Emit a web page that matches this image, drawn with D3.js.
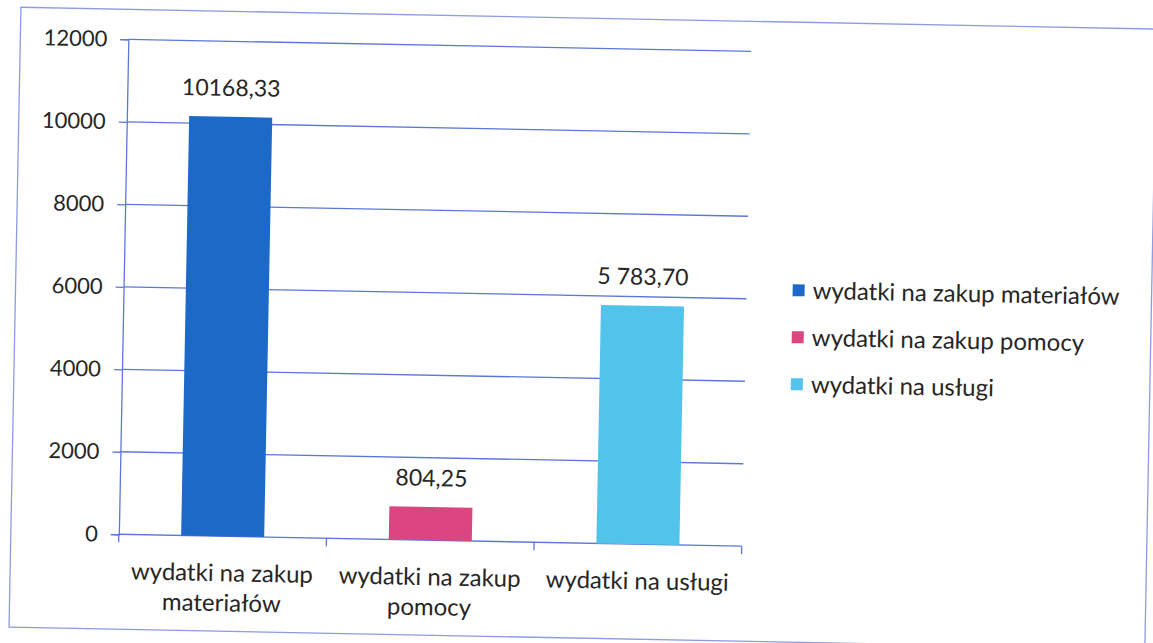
<!DOCTYPE html>
<html>
<head>
<meta charset="utf-8">
<script src="https://cdn.jsdelivr.net/npm/d3@7"></script>
<style>
  body { margin: 0; background: #fff; }
  svg text { font-family: Lato, "Open Sans", sans-serif; fill: #262626; }
</style>
</head>
<body>
<svg id="chart" width="1153" height="643"></svg>
<script>
// data
var categories = [
  ["wydatki na zakup", "materiałów"],
  ["wydatki na zakup", "pomocy"],
  ["wydatki na usługi"]
];
var seriesNames = ["wydatki na zakup materiałów", "wydatki na zakup pomocy", "wydatki na usługi"];
var values = [10168.33, 804.25, 5783.70];
var valueLabels = ["10168,33", "804,25", "5 783,70"];
var yTicks = [0, 2000, 4000, 6000, 8000, 10000, 12000];
var colors = ["#1c69c8", "#dc4680", "#52c4ec"];

var W = 1153, H = 643;
var margin = {top: 48, right: 407, bottom: 100, left: 123};
var width = W - margin.left - margin.right,
    height = H - margin.top - margin.bottom;
var lineColor = "#5d77d8";

var svg = d3.select("#chart");
// the scan sits about one degree off level
var root = svg.append("g").attr("transform", "rotate(1.1," + W / 2 + "," + H / 2 + ")");

root.append("rect")
  .attr("x", 15).attr("y", 18)
  .attr("width", 1136).attr("height", 620)
  .attr("fill", "none").attr("stroke", "#8d9be2").attr("stroke-width", 1.3);

var g = root.append("g").attr("transform", "translate(" + margin.left + "," + margin.top + ")");

var x = d3.scaleBand().domain(d3.range(categories.length)).range([0, width])
  .paddingInner(0.6).paddingOuter(0.3);
var xCat = d3.scaleBand().domain(d3.range(categories.length)).range([0, width]);
var y = d3.scaleLinear().domain([0, 12000]).range([height, 0]);

// gridlines
g.append("g").selectAll("line").data(yTicks.filter(function(d) { return d > 0; })).enter()
  .append("line")
  .attr("x1", 0).attr("x2", width)
  .attr("y1", function(d) { return y(d); }).attr("y2", function(d) { return y(d); })
  .attr("stroke", lineColor).attr("stroke-width", 1.3);

// y axis
var yAxis = g.append("g").call(d3.axisLeft(y).tickValues(yTicks).tickSize(8).tickPadding(13).tickFormat(d3.format("d")));
yAxis.selectAll("path, line").attr("stroke", lineColor).attr("stroke-width", 1.3);
yAxis.selectAll("text").style("font-size", "22px").attr("fill", "#262626");

// x axis with category boundary ticks
var xAxis = g.append("g").attr("transform", "translate(0," + height + ")");
xAxis.append("line").attr("x1", 0).attr("x2", width).attr("stroke", lineColor).attr("stroke-width", 1.3);
xAxis.selectAll("line.tick").data(d3.range(categories.length + 1)).enter()
  .append("line").attr("class", "tick")
  .attr("x1", function(i) { return i * xCat.step(); })
  .attr("x2", function(i) { return i * xCat.step(); })
  .attr("y1", 0).attr("y2", 8)
  .attr("stroke", lineColor).attr("stroke-width", 1.3);

xAxis.selectAll("text.cat").data(categories).enter()
  .append("text").attr("class", "cat")
  .attr("text-anchor", "middle")
  .style("font-size", "24px")
  .attr("transform", function(d, i) { return "translate(" + (xCat(i) + xCat.bandwidth() / 2) + ",45)"; })
  .selectAll("tspan").data(function(d) { return d; }).enter()
  .append("tspan").attr("x", 0).attr("dy", function(d, j) { return j === 0 ? 0 : 30; })
  .text(function(d) { return d; });

// bars
g.selectAll("rect.bar").data(values).enter()
  .append("rect").attr("class", "bar")
  .attr("x", function(d, i) { return x(i); })
  .attr("width", x.bandwidth())
  .attr("y", function(d) { return y(d); })
  .attr("height", function(d) { return height - y(d); })
  .attr("fill", function(d, i) { return colors[i]; });

g.selectAll("text.val").data(values).enter()
  .append("text").attr("class", "val")
  .attr("text-anchor", "middle")
  .style("font-size", "23px")
  .attr("x", function(d, i) { return x(i) + x.bandwidth() / 2; })
  .attr("y", function(d) { return y(d) - 21; })
  .text(function(d, i) { return valueLabels[i]; });

// legend
var legend = root.append("g").attr("transform", "translate(792,286)");
var items = legend.selectAll("g").data(seriesNames).enter()
  .append("g").attr("transform", function(d, i) { return "translate(0," + i * 47 + ")"; });
items.append("rect").attr("x", 0).attr("y", -6).attr("width", 12).attr("height", 12)
  .attr("fill", function(d, i) { return colors[i]; });
items.append("text").attr("x", 20).attr("dy", "0.35em")
  .style("font-size", "24px")
  .text(function(d) { return d; });
</script>
</body>
</html>
